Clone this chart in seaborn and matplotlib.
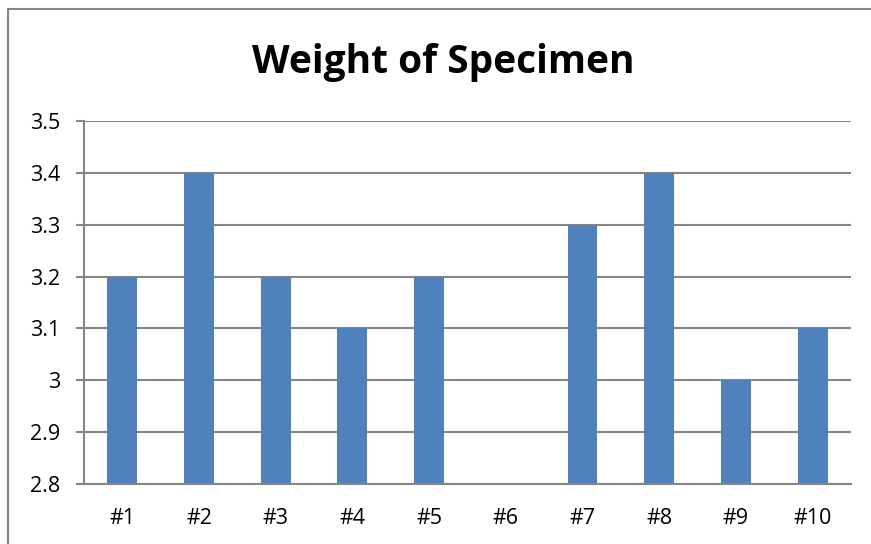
import numpy as np
import pandas as pd
import seaborn as sns
import matplotlib.pyplot as plt
from matplotlib.lines import Line2D

specimens = ["#1", "#2", "#3", "#4", "#5", "#6", "#7", "#8", "#9", "#10"]
weights = [3.2, 3.4, 3.2, 3.1, 3.2, 2.8, 3.3, 3.4, 3.0, 3.1]
y_ticks = [2.8, 2.9, 3.0, 3.1, 3.2, 3.3, 3.4, 3.5]
y_labels = ["2.8", "2.9", "3", "3.1", "3.2", "3.3", "3.4", "3.5"]

df = pd.DataFrame({"specimen": specimens, "weight": weights})

sns.set_theme(style="white")
plt.rcParams['font.family'] = ['Open Sans', 'DejaVu Sans']

grey = "#868686"
fig = plt.figure(figsize=(8.71, 5.44), dpi=100)
ax = fig.add_axes([0.0964, 0.1103, 0.977 - 0.0964, 0.7776 - 0.1103])

sns.barplot(data=df, x="specimen", y="weight", color="#4F81BD", saturation=1,
            width=0.39, linewidth=0, ax=ax)

ax.set_ylim(2.8, 3.5)
ax.set_xlim(-0.5, len(specimens) - 0.5)
ax.set_yticks(y_ticks)
ax.set_yticklabels(y_labels, fontsize=15.5, color="black")
for lbl in ax.get_xticklabels():
    lbl.set_color("black")
ax.yaxis.grid(True, color=grey, linewidth=1.5)
ax.set_axisbelow(True)
ax.set_xlabel("")
ax.set_ylabel("")
ax.tick_params(axis="x", which="major", length=0, pad=17, labelsize=15.5, labelcolor="black")
ax.set_xticks(np.arange(-0.5, len(specimens)), minor=True)
ax.tick_params(axis="x", which="minor", length=6, width=1.5, color=grey, direction="out")
ax.tick_params(axis="y", length=6, width=1.5, color=grey, direction="out", left=True, pad=11)

for s in ["top", "right"]:
    ax.spines[s].set_visible(False)
for s in ["left", "bottom"]:
    ax.spines[s].set_color(grey)
    ax.spines[s].set_linewidth(1.5)

fig.text(0.509, 0.886, "Weight of Specimen", ha="center", va="center",
         fontsize=28, fontweight="bold", color="black")

# outer chart frame
fig.add_artist(Line2D([8 / 871, 8 / 871], [0, 1 - 9 / 544], transform=fig.transFigure,
                      color=grey, linewidth=1.5))
fig.add_artist(Line2D([8 / 871, 1], [1 - 9 / 544, 1 - 9 / 544], transform=fig.transFigure,
                      color=grey, linewidth=1.5))

fig.savefig("out.png", dpi=100)
